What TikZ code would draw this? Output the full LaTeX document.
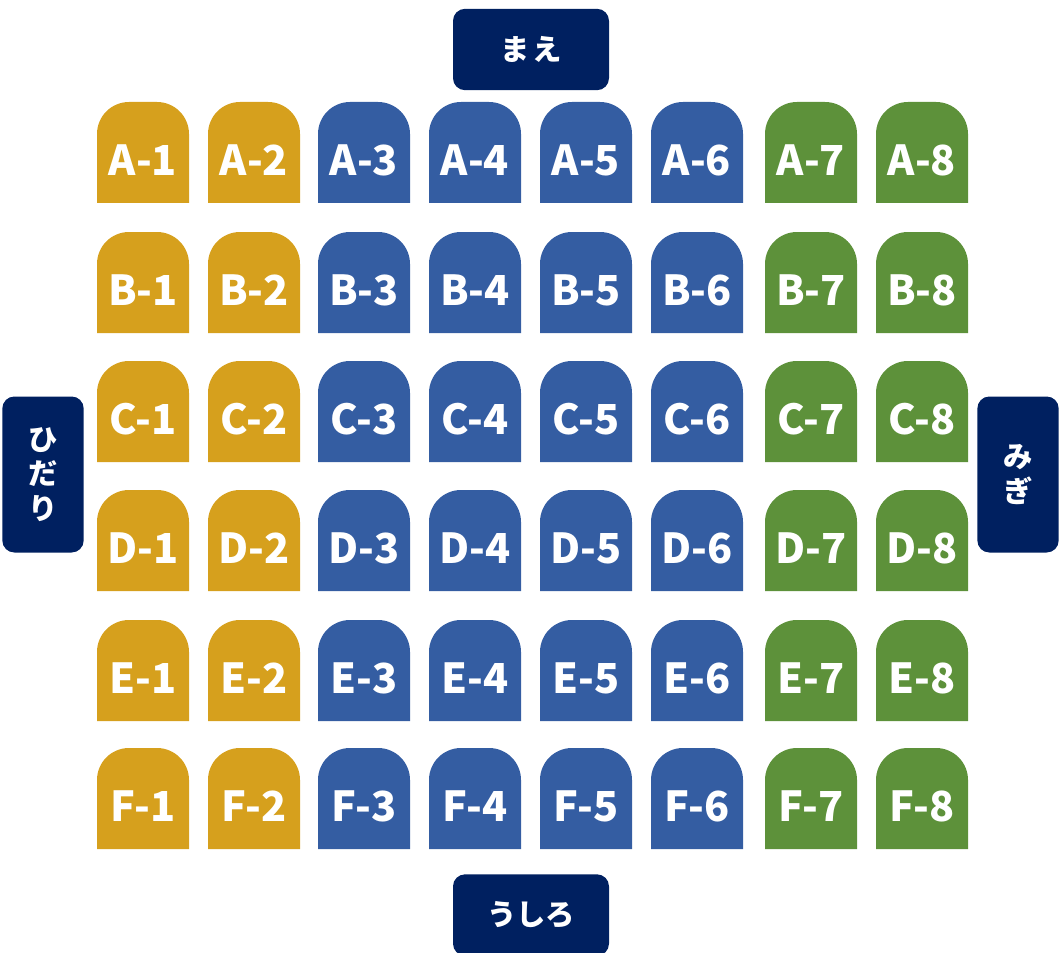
\documentclass[tikz,border=0pt]{standalone}
\usepackage{fontspec}
\setmainfont{Noto Sans CJK JP}

\definecolor{seatgold}{RGB}{214,160,29}
\definecolor{seatblue}{RGB}{52,93,162}
\definecolor{seatgreen}{RGB}{93,145,58}
\definecolor{sidenavy}{RGB}{0,32,96}

\begin{document}
\begin{tikzpicture}[x=0.75pt,y=-0.75pt,
  seatlbl/.style={text=white,font=\bfseries\fontsize{31}{31}\selectfont,inner sep=0pt},
  sidebox/.style={fill=sidenavy,rounded corners=9pt,text=white,align=center,
    font=\bfseries\fontsize{22}{26}\selectfont,inner sep=0pt}]
  \useasboundingbox (0,0) rectangle (1062,952);
  % asientos: fila / borde superior, columna / borde izquierdo / color
  \foreach \r/\t in {A/102,B/232,C/361,D/490,E/620,F/748}{
    \foreach \c/\l/\col in {1/97/seatgold,2/208/seatgold,3/318/seatblue,4/429/seatblue,
                            5/540/seatblue,6/651/seatblue,7/765/seatgreen,8/876/seatgreen}{
      \fill[\col] (\l,{\t+101}) [rounded corners=24pt] -- (\l,\t) -- ({\l+92},\t)
        [sharp corners] -- ({\l+92},{\t+101}) -- cycle;
      \node[seatlbl] (\r\c) at ({\l+46},{\t+58.5}) {\r-\c};
    }
  }
  \node[sidebox,minimum width=117pt,minimum height=61pt] (front) at (531,49.5) {ま\hspace{2pt}え};
  \node[sidebox,minimum width=117pt,minimum height=61pt] (back) at (531,915) {うしろ};
  \node[sidebox,minimum width=61pt,minimum height=117pt] (left) at (43,474.5) {ひ\\だ\\り};
  \node[sidebox,minimum width=61pt,minimum height=117pt] (right) at (1018,474.5) {み\\ぎ};
\end{tikzpicture}
\end{document}
